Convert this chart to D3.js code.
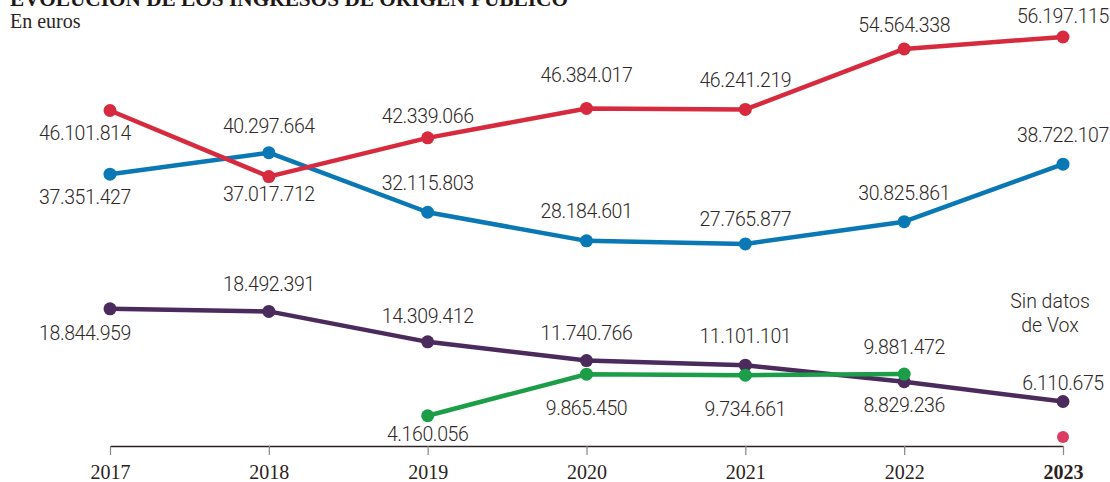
<!DOCTYPE html>
<html><head><meta charset="utf-8">
<script src="https://cdn.jsdelivr.net/npm/d3@7"></script>
<style>
html,body{margin:0;padding:0;background:#fff;}
svg{display:block;}
</style></head>
<body>
<svg id="chart" width="1110" height="482"></svg>
<script>
// ---- data ----
const years = ["2017","2018","2019","2020","2021","2022","2023"];
const psoe    = [46101814, 37017712, 42339066, 46384017, 46241219, 54564338, 56197115];
const pp      = [37351427, 40297664, 32115803, 28184601, 27765877, 30825861, 38722107];
const podemos = [18844959, 18492391, 14309412, 11740766, 11101101,  8829236,  6110675];
const vox     = [null, null, 4160056, 9865450, 9734661, 9881472, null];
const noDataYear = "2023";
const noDataText = ["Sin datos", "de Vox"];
const title = "EVOLUCIÓN DE LOS INGRESOS DE ORIGEN PÚBLICO";
const subtitle = "En euros";

// ---- layout (label offsets from point, px; negative = above baseline) ----
const labelDy = {
  psoe:    [30, 24, -15, -26, -22, -17, -14],
  pp:      [30, -20, -22, -23, -18, -22, -22],
  podemos: [31, -20, -19, -21, -22, 30, -12],
  vox:     [0, 0, 25, 41, 41, -20, 0]
};
const labelDx = [-25, 0, 0, 0, 0, 0, 0];

const series = [
  {key:"pp", values: pp, color:"#0a78b4"},
  {key:"psoe", values: psoe, color:"#d72a3e"},
  {key:"podemos", values: podemos, color:"#4b2a5c"},
  {key:"vox", values: vox, color:"#1c9e48"}
];

const svg = d3.select("#chart");
const x = d3.scalePoint().domain(years).range([110, 1063]);
const y = d3.scaleLinear().domain([0, d3.max(psoe)]).range([446, 37]);
const fmt = d3.formatLocale({decimal:",", thousands:".", grouping:[3], currency:["","€"]}).format(",d");

// title
svg.append("text").attr("x", 10).attr("y", 6)
  .attr("font-family", "'Liberation Serif', serif").attr("font-weight", "bold")
  .attr("font-size", 22).attr("fill", "#1d1716")
  .attr("textLength", 558).attr("lengthAdjust", "spacingAndGlyphs")
  .text(title);
svg.append("text").attr("x", 10).attr("y", 28)
  .attr("font-family", "'Liberation Serif', serif")
  .attr("font-size", 20).attr("fill", "#2b2524")
  .text(subtitle);

// axis
const axisG = svg.append("g").attr("transform", `translate(0,${y(0)})`);
axisG.call(d3.axisBottom(x).tickSize(9).tickSizeOuter(0));
axisG.select(".domain").attr("stroke", "#2a2220").attr("stroke-width", 1.5);
axisG.selectAll(".tick line").attr("stroke", "#8a8482").attr("stroke-width", 1.2);
axisG.selectAll(".tick text")
  .attr("font-family", "'Liberation Serif', serif").attr("font-size", 20)
  .attr("fill", "#2a2220").attr("dy", "1.05em")
  .attr("font-weight", d => d === "2023" ? "bold" : "normal");

// lines
const line = d3.line().defined(d => d.v != null).x(d => x(d.year)).y(d => y(d.v));
series.forEach(s => {
  const pts = years.map((yr, i) => ({year: yr, v: s.values[i], i}));
  svg.append("path").datum(pts).attr("d", line)
    .attr("fill", "none").attr("stroke", s.color).attr("stroke-width", 4.5)
    .attr("stroke-linejoin", "round");
});
series.forEach(s => {
  const pts = years.map((yr, i) => ({year: yr, v: s.values[i], i})).filter(d => d.v != null);
  svg.selectAll(null).data(pts).enter().append("circle")
    .attr("cx", d => x(d.year)).attr("cy", d => y(d.v)).attr("r", 6.5)
    .attr("fill", s.color);
  svg.selectAll(null).data(pts).enter().append("text")
    .attr("x", d => x(d.year) + labelDx[d.i])
    .attr("y", d => y(d.v) + labelDy[s.key][d.i])
    .attr("text-anchor", "middle")
    .attr("font-family", "Roboto, sans-serif").attr("font-size", 19.5)
    .attr("font-weight", 300).attr("letter-spacing", -0.4)
    .attr("fill", "#2e2826")
    .text(d => fmt(d.v));
});

// no data marker for Vox 2023
svg.append("circle").attr("cx", x(noDataYear)).attr("cy", y(0) - 9).attr("r", 6)
  .attr("fill", "#dc3b63");
svg.selectAll(null).data(noDataText).enter().append("text")
  .attr("x", x(noDataYear) - 13).attr("y", (d, i) => 308 + i * 24)
  .attr("text-anchor", "middle")
  .attr("font-family", "Roboto, sans-serif").attr("font-size", 19.5)
  .attr("font-weight", 300)
  .attr("fill", "#2e2826").text(d => d);
</script>
</body></html>
